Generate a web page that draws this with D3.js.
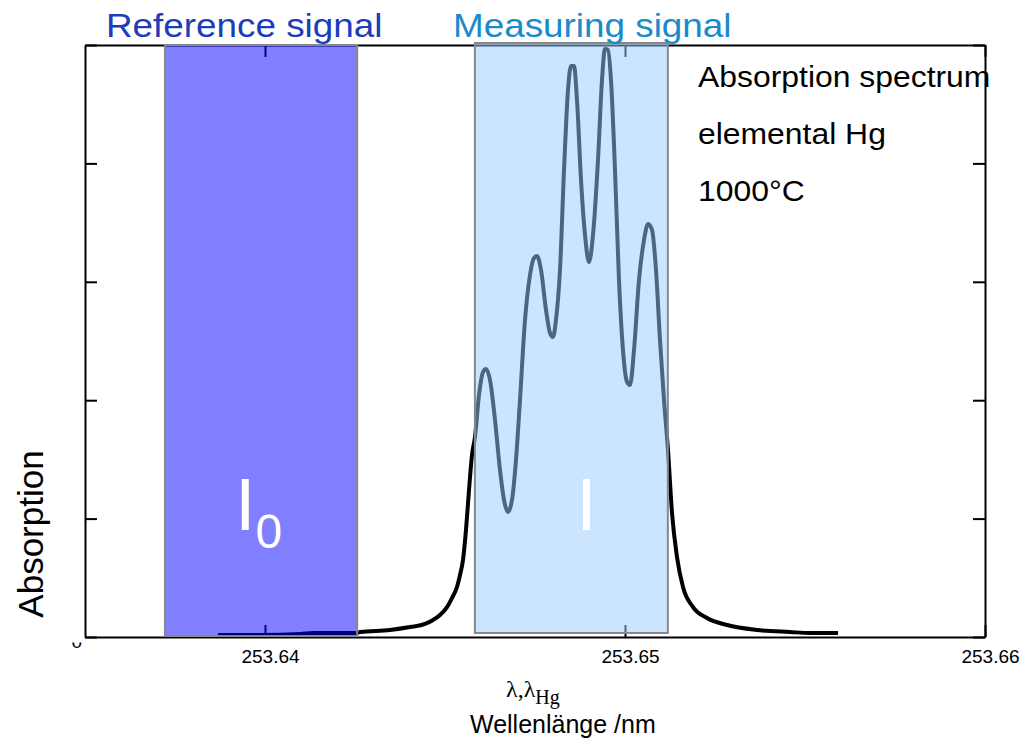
<!DOCTYPE html>
<html>
<head>
<meta charset="utf-8">
<script src="https://cdn.jsdelivr.net/npm/d3@7"></script>
<style>
  body { margin: 0; background: #fff; }
  text { font-family: "Liberation Sans", Arial, sans-serif; }
</style>
</head>
<body>
<div id="chart"></div>
<script>
// spectrum (wavelength in nm, absorption in axis units)
const wavelength = [
  253.638694, 253.639861, 253.640972, 253.641333, 253.642556, 253.642639,
  253.643472, 253.644028, 253.644444, 253.644667, 253.644861, 253.645056,
  253.645194, 253.645333, 253.645417, 253.645500, 253.645583, 253.645667,
  253.645750, 253.645833, 253.645944, 253.646056, 253.646139, 253.646250,
  253.646389, 253.646528, 253.646639, 253.646750, 253.646861, 253.646972,
  253.647083, 253.647222, 253.647361, 253.647472, 253.647556, 253.647667,
  253.647806, 253.647917, 253.648000, 253.648083, 253.648194, 253.648306,
  253.648417, 253.648500, 253.648583, 253.648667, 253.648778, 253.648889,
  253.649000, 253.649111, 253.649250, 253.649361, 253.649444, 253.649528,
  253.649611, 253.649722, 253.649833, 253.649944, 253.650056, 253.650139,
  253.650250, 253.650389, 253.650528, 253.650639, 253.650750, 253.650861,
  253.650972, 253.651083, 253.651194, 253.651306, 253.651444, 253.651611,
  253.651889, 253.652278, 253.652833, 253.653667, 253.654583, 253.655139,
  253.655917
];
const absorption = [
  0.017, 0.017, 0.025, 0.034, 0.034, 0.042,
  0.059, 0.084, 0.110, 0.144, 0.186, 0.253,
  0.329, 0.422, 0.524, 0.650, 0.904, 1.242,
  1.537, 1.689, 2.044, 2.238, 2.264, 2.171,
  1.833, 1.410, 1.157, 1.056, 1.157, 1.495,
  2.002, 2.677, 3.057, 3.201, 3.218, 3.100,
  2.762, 2.568, 2.534, 2.677, 3.100, 3.944,
  4.620, 4.823, 4.823, 4.535, 3.860, 3.395,
  3.167, 3.395, 4.029, 4.704, 4.966, 4.958,
  4.704, 3.944, 3.015, 2.424, 2.154, 2.128,
  2.424, 3.015, 3.353, 3.488, 3.438, 3.100,
  2.508, 2.002, 1.579, 1.047, 0.676, 0.422,
  0.253, 0.160, 0.101, 0.059, 0.042, 0.034,
  0.034
];

// the two wavelength windows
const bandNames = ["Reference signal", "Measuring signal"];
const bandStart = [253.63722, 253.64583];
const bandEnd = [253.64256, 253.65119];
const bandLow = [0.008, 0.034];
const bandHigh = [5.0, 5.017];

const xTicks = [253.64, 253.65, 253.66];
const yTicks = [0, 1, 2, 3, 4, 5];
const noteLines = ["Absorption spectrum", "elemental Hg", "1000°C"];

const width = 1026;
const height = 752;

const svg = d3.select("#chart")
  .append("svg")
  .attr("width", width)
  .attr("height", height);

const x = d3.scaleLinear().domain([253.635, 253.66]).range([85, 985]);
const y = d3.scaleLinear().domain([0, 5]).range([637, 45]);

// axes, ticks pointing inward
const axisStyle = g => {
  g.attr("font-size", 19).attr("font-family", "Liberation Sans, Arial, sans-serif");
  g.selectAll(".domain").attr("stroke", "#000").attr("stroke-width", 2);
  g.selectAll(".tick line").attr("stroke", "#000").attr("stroke-width", 2);
  g.selectAll(".tick text").attr("fill", "#000").attr("font-size", 19);
};

svg.append("g")
  .attr("transform", `translate(0, ${y(0)})`)
  .call(d3.axisBottom(x).tickValues(xTicks).tickFormat(d3.format(".2f"))
    .tickSizeInner(-12).tickSizeOuter(0).tickPadding(13))
  .call(axisStyle)
  .call(g => g.selectAll(".tick text").attr("dx", 5));

svg.append("g")
  .attr("transform", `translate(0, ${y(5)})`)
  .call(d3.axisTop(x).tickValues(xTicks).tickFormat("")
    .tickSizeInner(-12).tickSizeOuter(0))
  .call(axisStyle);

svg.append("defs").append("clipPath")
  .attr("id", "zero-clip")
  .attr("clipPathUnits", "userSpaceOnUse")
  .append("rect")
  .attr("x", -30).attr("y", 5).attr("width", 30).attr("height", 20);

svg.append("g")
  .attr("transform", `translate(${x(253.635)}, 0)`)
  .call(d3.axisLeft(y).tickValues(yTicks).tickFormat(d => d === 0 ? "0" : "")
    .tickSizeInner(-12).tickSizeOuter(0).tickPadding(3))
  .call(axisStyle)
  .call(g => g.selectAll(".tick text")
    .attr("dy", "0.55em")
    .attr("clip-path", "url(#zero-clip)"));

svg.append("g")
  .attr("transform", `translate(${x(253.66)}, 0)`)
  .call(d3.axisRight(y).tickValues(yTicks).tickFormat("")
    .tickSizeInner(-12).tickSizeOuter(0))
  .call(axisStyle);

// spectrum
const line = d3.line()
  .x((d, i) => x(wavelength[i]))
  .y(d => y(d))
  .curve(d3.curveMonotoneX);

svg.append("path")
  .datum(absorption)
  .attr("d", line)
  .attr("fill", "none")
  .attr("stroke", "#000")
  .attr("stroke-width", 4)
  .attr("stroke-linejoin", "round");

// translucent windows over the curve
const bandFill = ["#0000ff", "#99ccff"];
svg.selectAll("rect.band")
  .data(bandNames)
  .enter()
  .append("rect")
  .attr("class", "band")
  .attr("x", (d, i) => x(bandStart[i]))
  .attr("y", (d, i) => y(bandHigh[i]))
  .attr("width", (d, i) => x(bandEnd[i]) - x(bandStart[i]))
  .attr("height", (d, i) => y(bandLow[i]) - y(bandHigh[i]))
  .attr("fill", (d, i) => bandFill[i])
  .attr("fill-opacity", 0.5)
  .attr("stroke", "#888")
  .attr("stroke-width", 2);

// band titles
const titleColor = ["#1c3cbc", "#1a8acb"];
const titleX = [106, 453];
svg.selectAll("text.band-title")
  .data(bandNames)
  .enter()
  .append("text")
  .attr("class", "band-title")
  .attr("transform", (d, i) => `translate(${titleX[i]}, 37) scale(1.1, 1)`)
  .attr("fill", (d, i) => titleColor[i])
  .style("font-size", "33.5px")
  .text(d => d);

// I0 and I
const refMid = (x(bandStart[0]) + x(bandEnd[0])) / 2;
const i0 = svg.append("text")
  .attr("x", refMid - 26)
  .attr("y", 530)
  .attr("fill", "#fff");
i0.append("tspan").style("font-size", "74px").text("I");
i0.append("tspan").attr("dy", 18).style("font-size", "48px").text("0");

const measMid = (x(bandStart[1]) + x(bandEnd[1])) / 2;
svg.append("text")
  .attr("x", measMid + 5)
  .attr("y", 530)
  .attr("fill", "#fff")
  .style("font-size", "74px")
  .text("I");

// note in the upper right
svg.selectAll("text.note")
  .data(noteLines)
  .enter()
  .append("text")
  .attr("class", "note")
  .attr("transform", (d, i) => `translate(698, ${87 + i * 57}) scale(1.1, 1)`)
  .attr("fill", "#000")
  .style("font-size", "29px")
  .text(d => d);

// axis titles
svg.append("text")
  .attr("transform", "translate(43, 534) rotate(-90)")
  .attr("text-anchor", "middle")
  .attr("fill", "#000")
  .style("font-size", "35px")
  .text("Absorption");

const lam = svg.append("text")
  .attr("x", 506)
  .attr("y", 697)
  .attr("fill", "#000")
  .style("font-family", "Liberation Serif, Times New Roman, serif")
  .style("font-size", "24px");
lam.append("tspan").text("λ,λ");
lam.append("tspan").attr("dy", 7).style("font-size", "20px").text("Hg");

svg.append("text")
  .attr("x", 470)
  .attr("y", 733)
  .attr("fill", "#000")
  .style("font-size", "25px")
  .text("Wellenlänge /nm");
</script>
</body>
</html>
